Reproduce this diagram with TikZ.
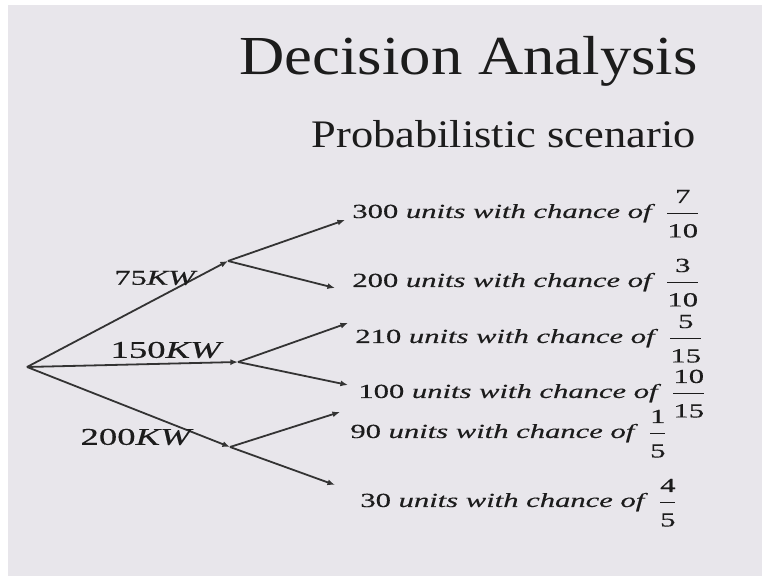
\documentclass[tikz,border=0pt]{standalone}
\usepackage{fontspec}
\usepackage{xcolor}
\usetikzlibrary{arrows.meta}
\setmainfont{Liberation Serif}
\newfontfamily\headfont[FakeStretch=1.14]{Liberation Serif}
\newfontfamily\eqnfont[FakeStretch=1.53,FakeBold=0.4]{Liberation Serif}
\definecolor{slidebg}{RGB}{232,230,235}
\definecolor{ink}    {HTML}{1C1C1C}
\definecolor{branch} {HTML}{333333}
\tikzset{
  head/.style     ={anchor=base east, inner sep=0pt, text=ink},
  branchline/.style={draw=branch, line width=0.9pt,
                    -{Latex[length=3.8pt,width=3pt]}},
  kwlabel/.style  ={inner sep=0pt, text=ink,
                    font=\eqnfont\fontsize{12}{14}\selectfont},
  outcome/.style  ={anchor=base west, inner sep=0pt, text=ink,
                    font=\eqnfont\fontsize{10}{12}\selectfont},
}
\newcommand\odds[2]{$\displaystyle\frac{\hbox{#1}\rule[-3.6pt]{0pt}{3.6pt}}%
  {\rule{0pt}{10.8pt}\hbox{#2}}$}
\newcommand\outtext[3]{#1\ \textit{units with chance of}\hspace{5pt}\odds{#2}{#3}}

\begin{document}
\begin{tikzpicture}[x=0.5pt,y=-0.5pt]
  \useasboundingbox (0,0) rectangle (762,576);
  \fill[white] (0,0) rectangle (762,576);
  \fill[slidebg] (8,5) rectangle (775,590);

  % heading
  \node[head,font=\headfont\fontsize{27.5}{32}\selectfont] (title) at (698,75) {Decision Analysis};
  \node[head,font=\headfont\fontsize{19.5}{24}\selectfont] (subtitle) at (696,148) {Probabilistic scenario};

  % decision and chance points
  \coordinate (root) at (27,367);
  \coordinate (kw75) at (228,261);
  \coordinate (kw150) at (238,362);
  \coordinate (kw200) at (230,447);

  % outcome ends
  \coordinate (o1) at (345,220);
  \coordinate (o2) at (335,288);
  \coordinate (o3) at (348,323);
  \coordinate (o4) at (348,385);
  \coordinate (o5) at (340,412);
  \coordinate (o6) at (335,485);

  \draw[branchline] (root) -- (kw75);
  \draw[branchline] (root) -- (kw150);
  \draw[branchline] (root) -- (kw200);
  \draw[branchline] (kw75) -- (o1);
  \draw[branchline] (kw75) -- (o2);
  \draw[branchline] (kw150) -- (o3);
  \draw[branchline] (kw150) -- (o4);
  \draw[branchline] (kw200) -- (o5);
  \draw[branchline] (kw200) -- (o6);

  % power labels
  \node[kwlabel,font=\eqnfont\fontsize{10.5}{12}\selectfont] (l75) at (156,278) {75\textit{KW}};
  \node[kwlabel] (l150) at (167,350) {150\textit{KW}};
  \node[kwlabel] (l200) at (137,437) {200\textit{KW}};

  % outcomes
  \node[outcome] (t1) at (352,218) {\outtext{300}{7}{10}};
  \node[outcome] (t2) at (352,287) {\outtext{200}{3}{10}};
  \node[outcome] (t3) at (355,343) {\outtext{210}{5}{15}};
  \node[outcome] (t4) at (358,398) {\outtext{100}{10}{15}};
  \node[outcome] (t5) at (350,438) {\outtext{90}{1}{5}};
  \node[outcome] (t6) at (360,507) {\outtext{30}{4}{5}};
\end{tikzpicture}
\end{document}
